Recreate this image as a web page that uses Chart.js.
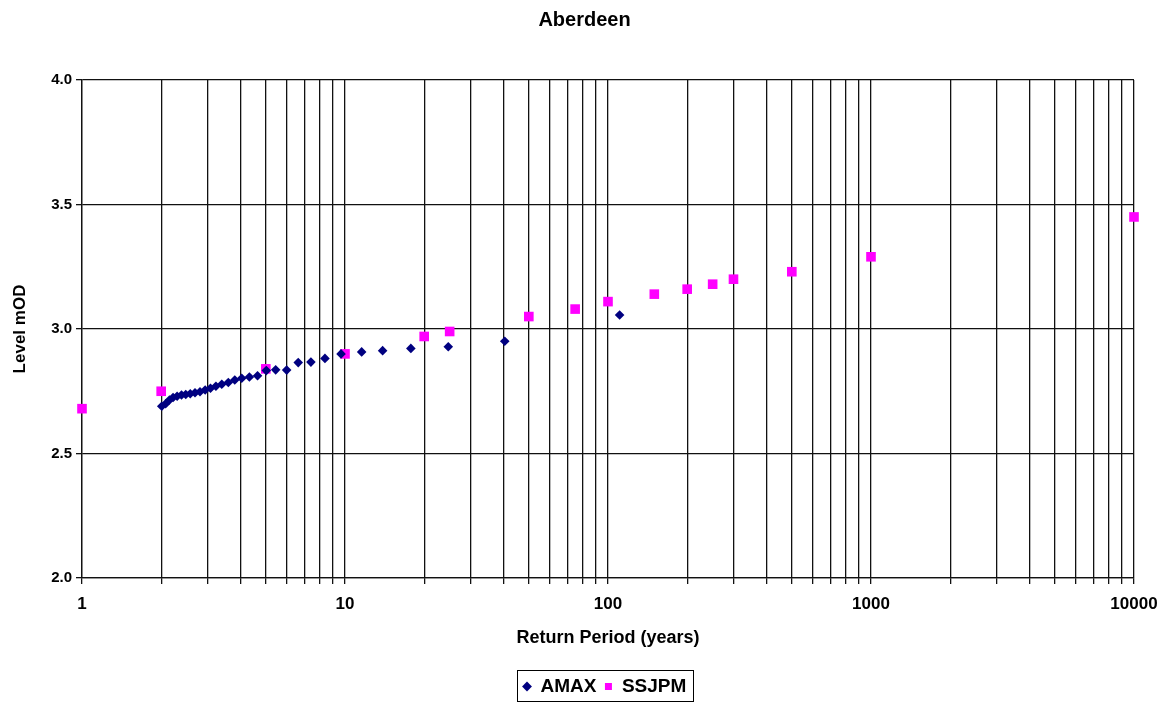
<!DOCTYPE html>
<html>
<head>
<meta charset="utf-8">
<script src="https://cdn.jsdelivr.net/npm/chart.js@4.4.1/dist/chart.umd.min.js"></script>
<style>
  html, body { margin: 0; padding: 0; background: #fff; }
  #wrap { width: 1169px; height: 702px; }
</style>
</head>
<body>
<div id="wrap"><canvas id="chart-aberdeen"></canvas></div>
<script>
// AMAX - return period (years) and level (mOD)
const amaxPeriod = [2.01, 2.08, 2.15, 2.22, 2.30, 2.39, 2.48, 2.58, 2.69, 2.81, 2.94,
    3.08, 3.23, 3.40, 3.60, 3.81, 4.05, 4.33, 4.65, 5.02, 5.45,
    6.0, 6.64, 7.42, 8.39, 9.66, 11.57, 13.9, 17.8, 24.7, 40.5, 110.7];
const amaxLevel = [2.69, 2.70, 2.715, 2.725, 2.73, 2.735, 2.737, 2.74, 2.744, 2.748, 2.755,
    2.762, 2.77, 2.778, 2.785, 2.795, 2.802, 2.807, 2.812, 2.833, 2.836,
    2.835, 2.865, 2.867, 2.882, 2.900, 2.908, 2.913, 2.922, 2.929, 2.951, 3.056];

// SSJPM
const ssjpmPeriod = [1, 2, 5, 10, 20, 25, 50, 75, 100, 150, 200, 250, 300, 500, 1000, 10000];
const ssjpmLevel = [2.68, 2.75, 2.84, 2.90, 2.97, 2.99, 3.05, 3.08, 3.11, 3.14, 3.16, 3.18, 3.20, 3.23, 3.29, 3.45];

// axis labels
const xTickLabels = ['1', '10', '100', '1000', '10000'];
const yTicks = [2.0, 2.5, 3.0, 3.5, 4.0];

const FONT = 'Liberation Sans, Arial, sans-serif';

// title centred on the page, legend a bit right of centre with a box round it
const legendFrame = {
    id: 'legendFrame',
    afterUpdate(chart) {
        const tb = chart.titleBlock;
        if (tb) {
            const dt = chart.width / 2 - (tb.left + tb.right) / 2;
            tb.left += dt;
            tb.right += dt;
        }
        const lg = chart.legend;
        if (!lg || !lg.legendHitBoxes.length) return;
        const shift = 523 - lg.legendHitBoxes[0].left;
        lg.left += shift;
        lg.right += shift;
        lg.legendHitBoxes.forEach(b => { b.left += shift; });
    },
    afterDraw(chart) {
        const boxes = chart.legend.legendHitBoxes;
        if (!boxes || !boxes.length) return;
        const ctx = chart.ctx;
        const left = Math.min(...boxes.map(b => b.left)) - 6;
        const right = Math.max(...boxes.map(b => b.left + b.width)) + 7;
        const top = boxes[0].top - 7;
        const bottom = boxes[0].top + boxes[0].height + 5;
        ctx.save();
        ctx.strokeStyle = '#000';
        ctx.lineWidth = 1;
        ctx.strokeRect(Math.round(left) + 0.5, Math.round(top) + 0.5, Math.round(right - left), Math.round(bottom - top));
        ctx.restore();
    }
};

const data = {
    datasets: [{
        label: 'AMAX',
        data: amaxPeriod.map((t, i) => ({ x: t, y: amaxLevel[i] })),
        backgroundColor: '#000080',
        borderColor: '#000080',
        pointStyle: 'rectRot',
        pointRadius: 4.8,
        pointBorderWidth: 0,
        showLine: false,
        clip: false
    },
    {
        label: 'SSJPM',
        data: ssjpmPeriod.map((t, i) => ({ x: t, y: ssjpmLevel[i] })),
        backgroundColor: '#ff00ff',
        borderColor: '#ff00ff',
        pointStyle: 'rect',
        pointRadius: 6.8,
        pointBorderWidth: 0,
        showLine: false,
        clip: false
    }]
};

const config = {
    type: 'scatter',
    data,
    options: {
        responsive: true,
        maintainAspectRatio: false,
        animation: false,
        layout: { padding: { left: 0, right: 35, top: 0, bottom: -4 } },
        plugins: {
            title: {
                display: true,
                text: 'Aberdeen',
                color: '#000',
                font: { family: FONT, size: 20, weight: 'bold' },
                padding: { top: 8, bottom: 48 }
            },
            legend: {
                position: 'bottom',
                labels: {
                    usePointStyle: true,
                    color: '#000',
                    font: { family: FONT, size: 19, weight: 'bold' },
                    padding: 8,
                    boxWidth: 8,
                    boxHeight: 7
                }
            },
            tooltip: { enabled: false }
        },
        scales: {
            x: {
                type: 'logarithmic',
                min: 1,
                max: 10000,
                afterBuildTicks: (scale) => {
                    const ticks = [];
                    for (let p = 0; p < 4; p++) {
                        for (let d = 1; d < 10; d++) ticks.push({ value: d * Math.pow(10, p) });
                    }
                    ticks.push({ value: 10000 });
                    scale.ticks = ticks;
                },
                afterFit: (scale) => { scale.height = 91; },
                ticks: {
                    autoSkip: false,
                    maxRotation: 0,
                    color: '#000',
                    padding: 10,
                    font: { family: FONT, size: 17, weight: 'bold' },
                    callback: (v) => xTickLabels.includes(String(v)) ? String(v) : ''
                },
                grid: { color: '#111', lineWidth: 1.3, tickLength: 6 },
                border: { color: '#111', width: 1.3 },
                title: {
                    display: true,
                    text: 'Return Period (years)',
                    color: '#000',
                    font: { family: FONT, size: 18, weight: 'bold' },
                    padding: { top: 0, bottom: 20 }
                }
            },
            y: {
                min: 2,
                max: 4,
                afterBuildTicks: (scale) => { scale.ticks = yTicks.map(v => ({ value: v })); },
                afterFit: (scale) => { scale.width = 82; },
                ticks: {
                    color: '#000',
                    padding: 4,
                    font: { family: FONT, size: 15, weight: 'bold' },
                    callback: (v) => Number(v).toFixed(1)
                },
                grid: { color: '#111', lineWidth: 1.3, tickLength: 6 },
                border: { color: '#111', width: 1.3 },
                title: {
                    display: true,
                    text: 'Level mOD',
                    color: '#000',
                    font: { family: FONT, size: 17, weight: 'bold' },
                    padding: 10
                }
            }
        }
    },
    plugins: [legendFrame]
};

const myChart = new Chart(document.getElementById('chart-aberdeen'), config);
</script>
</body>
</html>
